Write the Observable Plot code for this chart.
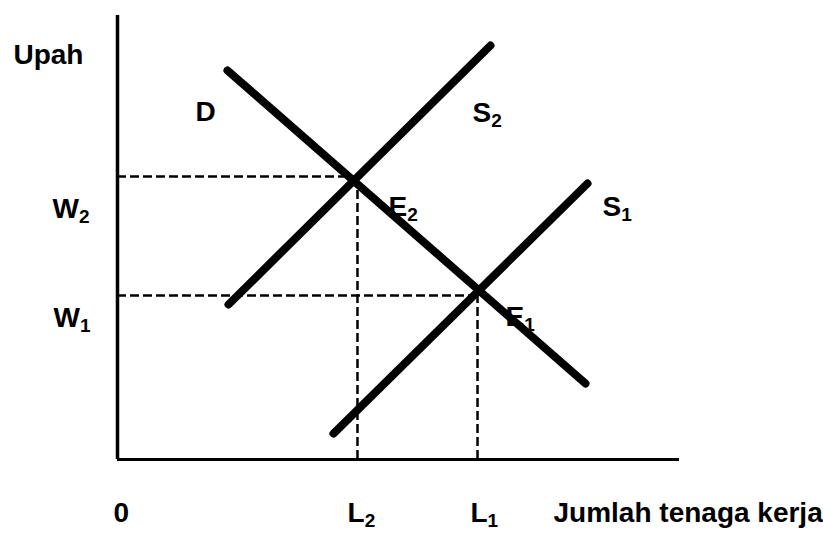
<!DOCTYPE html>
<html>
<head>
<meta charset="utf-8">
<script src="https://cdn.jsdelivr.net/npm/d3@7"></script>
<script src="https://cdn.jsdelivr.net/npm/@observablehq/plot@0.6"></script>
<style>
  html, body { margin: 0; padding: 0; background: #fff; }
  #chart svg { display: block; }
</style>
</head>
<body>
<div id="chart"></div>
<script>
// Curves (labour quantity x, wage y) in chart units
const demandD  = [{x: 19.57, y: 70.09}, {x: 83.27, y: 13.69}];
const supplyS2 = [{x: 19.75, y: 27.93}, {x: 66.37, y: 74.59}];
const supplyS1 = [{x: 38.43, y: 4.68},  {x: 83.63, y: 49.73}];

// Equilibrium guide levels
const wageLevels   = [51.0, 29.55];   // W2, W1
const labourLevels = [42.7, 64.06];   // L2, L1

// Text labels (main text, subscript, anchor position in chart units)
const labelText = ["Upah", "D", "S", "E", "S", "W", "W", "E", "0", "L", "L", "Jumlah tenaga kerja"];
const labelSub  = ["", "", "2", "2", "1", "2", "1", "1", "", "2", "1", ""];
const labelX    = [-18.51, 13.88, 63.17, 48.22, 86.30, -11.57, -11.39, 69.04, -0.71, 40.93, 62.81, 77.58];
const labelY    = [71.35, 61.08, 60.90, 43.96, 43.96, 43.60, 23.96, 24.14, -11.2, -11.2, -11.2, -11.2];

const labels = labelText.map((t, i) => ({
  x: labelX[i], y: labelY[i],
  text: labelSub[i] ? t + "_" + labelSub[i] : t
}));
const guides = wageLevels.map((w, i) => ({w, l: labourLevels[i]}));

const plot = Plot.plot({
  width: 823,
  height: 535,
  marginLeft: 117,
  marginRight: 144,
  marginTop: 15,
  marginBottom: 76,
  x: {domain: [0, 100], axis: null},
  y: {domain: [0, 80], axis: null},
  style: {fontFamily: "'Liberation Sans', Arial, sans-serif", background: "#fff", color: "#000"},
  marks: [
    // dashed guides
    Plot.ruleY(guides, {y: "w", x1: 0, x2: "l", stroke: "#000", strokeWidth: 2.5, strokeDasharray: "9,4"}),
    Plot.ruleX(guides, {x: "l", y1: 0, y2: "w", stroke: "#000", strokeWidth: 2.5, strokeDasharray: "9,4"}),
    // axes
    Plot.ruleX([0], {y1: 0, y2: 80, stroke: "#000", strokeWidth: 3.5}),
    Plot.ruleY([0], {x1: 0, x2: 100, stroke: "#000", strokeWidth: 3}),
    // curves
    Plot.line(demandD,  {x: "x", y: "y", stroke: "#000", strokeWidth: 8}),
    Plot.line(supplyS2, {x: "x", y: "y", stroke: "#000", strokeWidth: 8}),
    Plot.line(supplyS1, {x: "x", y: "y", stroke: "#000", strokeWidth: 8}),
    // labels
    Plot.text(labels, {x: "x", y: "y", text: "text", textAnchor: "start", lineAnchor: "bottom",
                       fontSize: 28, fontWeight: "bold", fill: "#000"})
  ]
});

// turn "X_n" into X with a subscript tspan
plot.querySelectorAll("text").forEach(t => {
  const s = t.textContent;
  const i = s.indexOf("_");
  if (i < 0) return;
  t.textContent = s.slice(0, i);
  const ts = document.createElementNS("http://www.w3.org/2000/svg", "tspan");
  ts.setAttribute("font-size", "19");
  ts.setAttribute("dy", "5");
  ts.textContent = s.slice(i + 1);
  t.appendChild(ts);
});

document.getElementById("chart").appendChild(plot);
</script>
</body>
</html>
